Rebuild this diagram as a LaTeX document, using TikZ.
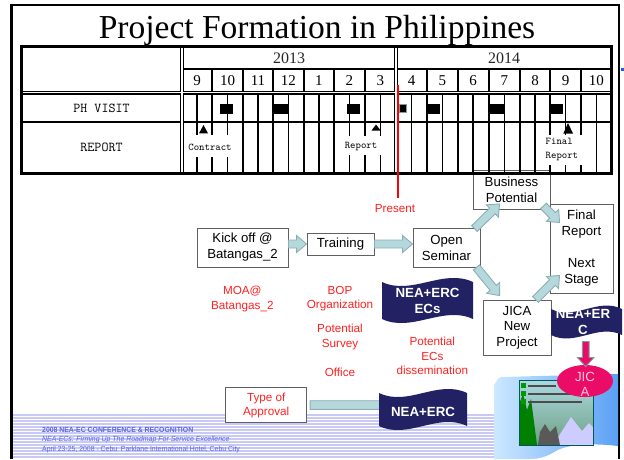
\documentclass[tikz,border=0pt]{standalone}
\usepackage{fontspec}
\setmainfont{Liberation Sans}
\newfontfamily\titlefont{Liberation Serif}
\usetikzlibrary{calc,shapes.geometric}

\definecolor{boxline}{HTML}{606060}
\definecolor{arrowfill}{HTML}{B5D8DC}
\definecolor{arrowline}{HTML}{8AAEB3}
\definecolor{navy}{HTML}{212163}
\definecolor{pinkred}{HTML}{EA0C66}
\definecolor{pinktext}{HTML}{FFC8DC}
\definecolor{footblue}{HTML}{5666E0}
\definecolor{stripecol}{HTML}{C9C9F5}
\definecolor{labelred}{HTML}{FF2020}
\definecolor{tickblue}{HTML}{1E5AF0}
\definecolor{docleft}{HTML}{CDE8FF}
\definecolor{docright}{HTML}{5AA0F5}

\tikzset{
  bashaft/.store in=\bashaft, bahead/.store in=\bahead, balen/.store in=\balen,
  bashaft=4pt, bahead=8.5pt, balen=10pt,
  blockarrow/.style={fill=arrowfill, draw=arrowline, line width=0.9pt, line join=miter,
    to path={let \p1=($(\tikztotarget)!\balen!(\tikztostart)$) in
      ($(\tikztostart)!\bashaft!90:(\tikztotarget)$)
      -- ($(\p1)!\bashaft!90:(\tikztotarget)$)
      -- ($(\p1)!\bahead!90:(\tikztotarget)$)
      -- (\tikztotarget)
      -- ($(\p1)!\bahead!-90:(\tikztotarget)$)
      -- ($(\p1)!\bashaft!-90:(\tikztotarget)$)
      -- ($(\tikztostart)!\bashaft!-90:(\tikztotarget)$) -- cycle}},
  flowbox/.style={draw=boxline, line width=0.9pt, fill=white, align=center,
    inner sep=0pt, font=\fontsize{13.2}{16}\selectfont},
  redlbl/.style={text=labelred, align=center, inner sep=0pt,
    font=\fontsize{11.7}{14.2}\selectfont},
  bantext/.style={text=white, align=center, inner sep=0pt,
    font=\bfseries\fontsize{13.3}{16}\selectfont},
  banner/.style={fill=navy},
  monthtxt/.style={inner sep=0pt, font=\titlefont\fontsize{15}{17}\selectfont},
  yeartxt/.style={inner sep=0pt, text=black!85, font=\titlefont\fontsize{16}{18}\selectfont},
  rowtxt/.style={inner sep=0pt, font=\ttfamily\fontsize{13.6}{16}\selectfont},
  marktxt/.style={inner sep=0pt, font=\ttfamily\fontsize{10.3}{13.3}\selectfont},
  foottxt/.style={anchor=west, inner sep=0pt, text=footblue},
  monthline/.style={line width=2pt},
  halfline/.style={line width=1.5pt},
}

\begin{document}
\begin{tikzpicture}[x=1pt,y=-1pt]
\useasboundingbox (0,0) rectangle (624,459);

% slide frame
\draw[line width=3pt] (11.7,3.5) -- (11.7,459);
\draw[line width=2.3pt] (10.2,4.8) -- (620.3,4.8);
\draw[line width=2.8pt] (619,3.6) -- (619,459);
\fill[tickblue] (620.6,68.3) rectangle (623.5,71.3);

% title
\node[font=\titlefont\fontsize{33.5}{36}\selectfont, anchor=base, inner sep=0pt]
  (title) at (317,38) {Project Formation in Philippines};

% footer stripes
\foreach \y in {415,418,...,458}
  \draw[stripecol, line width=1.8pt] (13.2,\y) -- (494,\y);
\node[foottxt, font=\bfseries\fontsize{7.4}{9}\selectfont] (ft1) at (42,430)
  {\scalebox{0.93}[1]{2008 NEA-EC CONFERENCE \& RECOGNITION}};
\node[foottxt, font=\itshape\fontsize{7.4}{9}\selectfont] (ft2) at (42,440)
  {\scalebox{0.94}[1]{NEA-ECs: Firming Up The Roadmap For Service Excellence}};
\node[foottxt, font=\fontsize{7.4}{9}\selectfont] (ft3) at (42,450)
  {\scalebox{0.93}[1]{April 23-25, 2008 - Cebu\ \ Parklane International Hotel, Cebu City}};

% blue document shape with the poster
\shade[left color=docleft, right color=docright]
  (494,459) -- (494,384) to[out=-90,in=180] (501,377) -- (618,374) -- (618,446)
  .. controls (592,443) and (568,444) .. (556,451)
  .. controls (548,456) and (540,459) .. (530,459) -- cycle;
\shade[top color={rgb,255:red,172;green,216;blue,226},
       bottom color={rgb,255:red,110;green,160;blue,130}] (519,380) rectangle (593,445);
\fill[white!80!blue] (553,445) -- (571,417) -- (582,431) -- (589,423) -- (593,427) -- (593,445) -- cycle;
\fill[green!50!black] (519,404) -- (523,394) -- (527,410) -- (531,399) -- (537,445) -- (519,445) -- cycle;
\fill[black!65] (540,432) -- (545,424) -- (550,432) -- (556,426) -- (560,445) -- (538,445) -- cycle;
\fill[green!60!black] (521,383) rectangle (526,388);
\fill[green!60!black] (521,391) rectangle (526,396);
\fill[green!60!black] (521,399) rectangle (526,404);
\fill[black!70] (528,384.5) rectangle (556,386.5);
\fill[black!70] (528,392.5) rectangle (574,394.5);
\fill[black!70] (528,400.5) rectangle (582,402.5);
\draw[teal!70!black, line width=1pt] (519,380) rectangle (593,445);

% process boxes
\node[flowbox, minimum width=91, minimum height=39] (kick) at (242.5,247.5) {Kick off @\\Batangas\_2};
\node[flowbox, minimum width=67, minimum height=22] (train) at (340.5,244) {Training};
\node[flowbox, minimum width=67, minimum height=39] (open) at (446.5,247.5) {Open\\Seminar};
\node[flowbox, minimum width=77, minimum height=39] (bp) at (511.5,190) {Business\\Potential};
\node[flowbox, minimum width=63, minimum height=89] (fr) at (581.5,248.5) {Final\\Report\\[16pt]Next\\Stage};
\node[flowbox, minimum width=68, minimum height=55, font=\fontsize{13.2}{15.4}\selectfont] (jn) at (517,327.5) {JICA\\New\\Project};
\node[flowbox, minimum width=81, minimum height=35.4, text=labelred, font=\fontsize{11.7}{14}\selectfont] (ta) at (266.2,405) {Type of\\Approval};

% red notes
\node[redlbl] (moa) at (242.3,299) {MOA@\\Batangas\_2};
\node[redlbl] (bop) at (340,299) {BOP\\Organization};
\node[redlbl] (psv) at (340,337) {Potential\\Survey};
\node[redlbl] (office) at (340,372) {Office};
\node[redlbl, font=\fontsize{11.7}{14.5}\selectfont] (ped) at (432.3,356.3) {Potential\\ECs\\dissemination};

% connectors between the boxes
\coordinate (h1s) at (kick.east |- train.west);
\coordinate (h2e) at (train.east -| open.west);
\coordinate (d1s) at ($(open.north east)+(-6,1)$);
\coordinate (d1e) at ($(bp.south west)+(27,-6)$);
\coordinate (d2s) at ($(bp.south east)+(-7,-4)$);
\coordinate (d2e) at ($(fr.north west)+(10,19)$);
\coordinate (d3s) at ($(open.south east)+(-4,0)$);
\coordinate (d3e) at ($(jn.north west)+(17,-4)$);
\coordinate (d4s) at ($(jn.north east)+(-16,0)$);
\coordinate (d4e) at ($(fr.south west)+(10,-18)$);
\draw[blockarrow] (h1s) to (train.west);
\draw[blockarrow] (train.east) to (h2e);
\draw[blockarrow] (d1s) to (d1e);
\draw[blockarrow] (d2s) to (d2e);
\draw[blockarrow] (d3s) to (d3e);
\draw[blockarrow] (d4s) to (d4e);

% NEA+ERC banners
\fill[banner] (382,282) .. controls (412,296) and (443,268) .. (473,282)
  -- (473,319) .. controls (443,305) and (412,333) .. (382,319) -- cycle;
\node[bantext] (nea1) at (427.5,301.3) {NEA+ERC\\ECs};

\node[bantext] (nea2) at (423,411.7) {NEA+ERC};
\coordinate (t1s) at ($(ta.east)+(3,0)$);
\coordinate (t1e) at ($(ta.east -| nea2.west)+(4,0)$);
\draw[blockarrow, bashaft=4.3pt] (t1s) to (t1e);
\fill[banner] (379,393) .. controls (408,407) and (438,379) .. (467,393)
  -- (467,426) .. controls (438,412) and (408,440) .. (379,426) -- cycle;
\node[bantext] at (nea2) {NEA+ERC};

\fill[banner] (551,309) .. controls (575,321) and (598,297) .. (622,309)
  -- (622,335) .. controls (598,323) and (575,347) .. (551,335) -- cycle;
\node[bantext] (nea3) at (583,322) {NEA+ER\\C};

% JICA ellipse and the pink arrow into it
\node[ellipse, fill=pinkred, minimum width=56, minimum height=32, inner sep=0pt] (jica) at (585,381) {};
\node[inner sep=0pt, align=center, text=pinktext, font=\fontsize{13.3}{15}\selectfont] (jicalbl) at (585,384.5) {JIC\\A};
\coordinate (p1s) at ($(nea3.south)+(2.7,6.7)$);
\coordinate (p1e) at ($(jica.north)+(0.7,1.7)$);
\draw[blockarrow, fill=pinkred, draw=arrowline!90!black, bashaft=3.4pt, bahead=8.3pt, balen=9pt] (p1s) to (p1e);

% ---- schedule table ----
% outer border and horizontal rules
\draw[line width=3.3pt] (21.7,46.7) rectangle (611.7,173.7);
\draw[line width=1.5pt] (182,69.2) -- (611.7,69.2);
\draw[line width=2pt] (21.7,121.7) -- (611.7,121.7);
\draw[line width=4pt] (21.7,92.7) -- (611.7,92.7);
% month boundaries and half-month lines
\foreach \x in {212,243,273,303.5,334,364.5,427,457.5,488.5,520,550,581}
  \draw[monthline] (\x,69.2) -- (\x,173.7);
\foreach \x in {197,227.5,258,288.3,318.8,349.3,380.3,411.5,442.3,473,504.3,535,565.5,596.4}
  \draw[halfline] (\x,92.7) -- (\x,173.7);
% double rules
\draw[line width=4pt] (182,45) -- (182,175.3);
\draw[line width=4pt] (396,45) -- (396,175.3);
\draw[white, line width=1.2pt] (21.7+1.7,92.7) -- (611.7-1.7,92.7);
\draw[white, line width=1.2pt] (182,48.4) -- (182,172);
\draw[white, line width=1.2pt] (396,48.4) -- (396,172);

% year and month headings
\node[yeartxt] (y2013) at (289,58.5) {2013};
\node[yeartxt] (y2014) at (504,58.5) {2014};
\foreach \x/\m [count=\i] in {197/9,227.5/10,258/11,288.3/12,318.8/1,349.3/2,380.3/3,411.5/4,442.3/5,473/6,504.3/7,535/8,565.5/9,596.4/10}
  \node[monthtxt] (mon\i) at (\x,81) {\m};
\node[rowtxt] (phvisit) at (101.5,108) {PH VISIT};
\node[rowtxt] (report) at (101.5,147.5) {REPORT};

% visit periods
\fill (220,103.5) rectangle (233,113.5);
\fill (273,103.5) rectangle (287.5,113.5);
\fill (347,103.5) rectangle (359.5,113.5);
\filldraw[draw={rgb,255:red,126;green,155;blue,166}, line width=1pt] (399.7,104.2) rectangle (406.8,112.8);
\fill (427,103.5) rectangle (440,113.5);
\fill (489,103.5) rectangle (504,113.5);
\fill (550,103.5) rectangle (563,113.5);

% report milestones
\fill[white] (187,135) rectangle (233,157);
\fill[white] (343,136) rectangle (382,155);
\fill[white] (543,135) rectangle (582,165);
\fill (203.5,125) -- (199,133.3) -- (208,133.3) -- cycle;
\fill (376,124.5) -- (371.5,130.5) -- (380.7,130.5) -- cycle;
\fill (568,123) -- (563.3,133.5) -- (573,133.5) -- cycle;
\node[marktxt] (contract) at (210,147.3) {Contract};
\node[marktxt] (rep1) at (361,146) {Report};
\node[marktxt, anchor=west, align=left] (finalrep) at (545.5,149.4) {Final\\Report};

% present marker
\coordinate (prtop) at (398,85);
\coordinate (prbot) at (398,198);
\draw[red, line width=2pt] (prtop) -- (prbot);
\node[redlbl] (present) at (395,209) {Present};

\end{tikzpicture}
\end{document}
